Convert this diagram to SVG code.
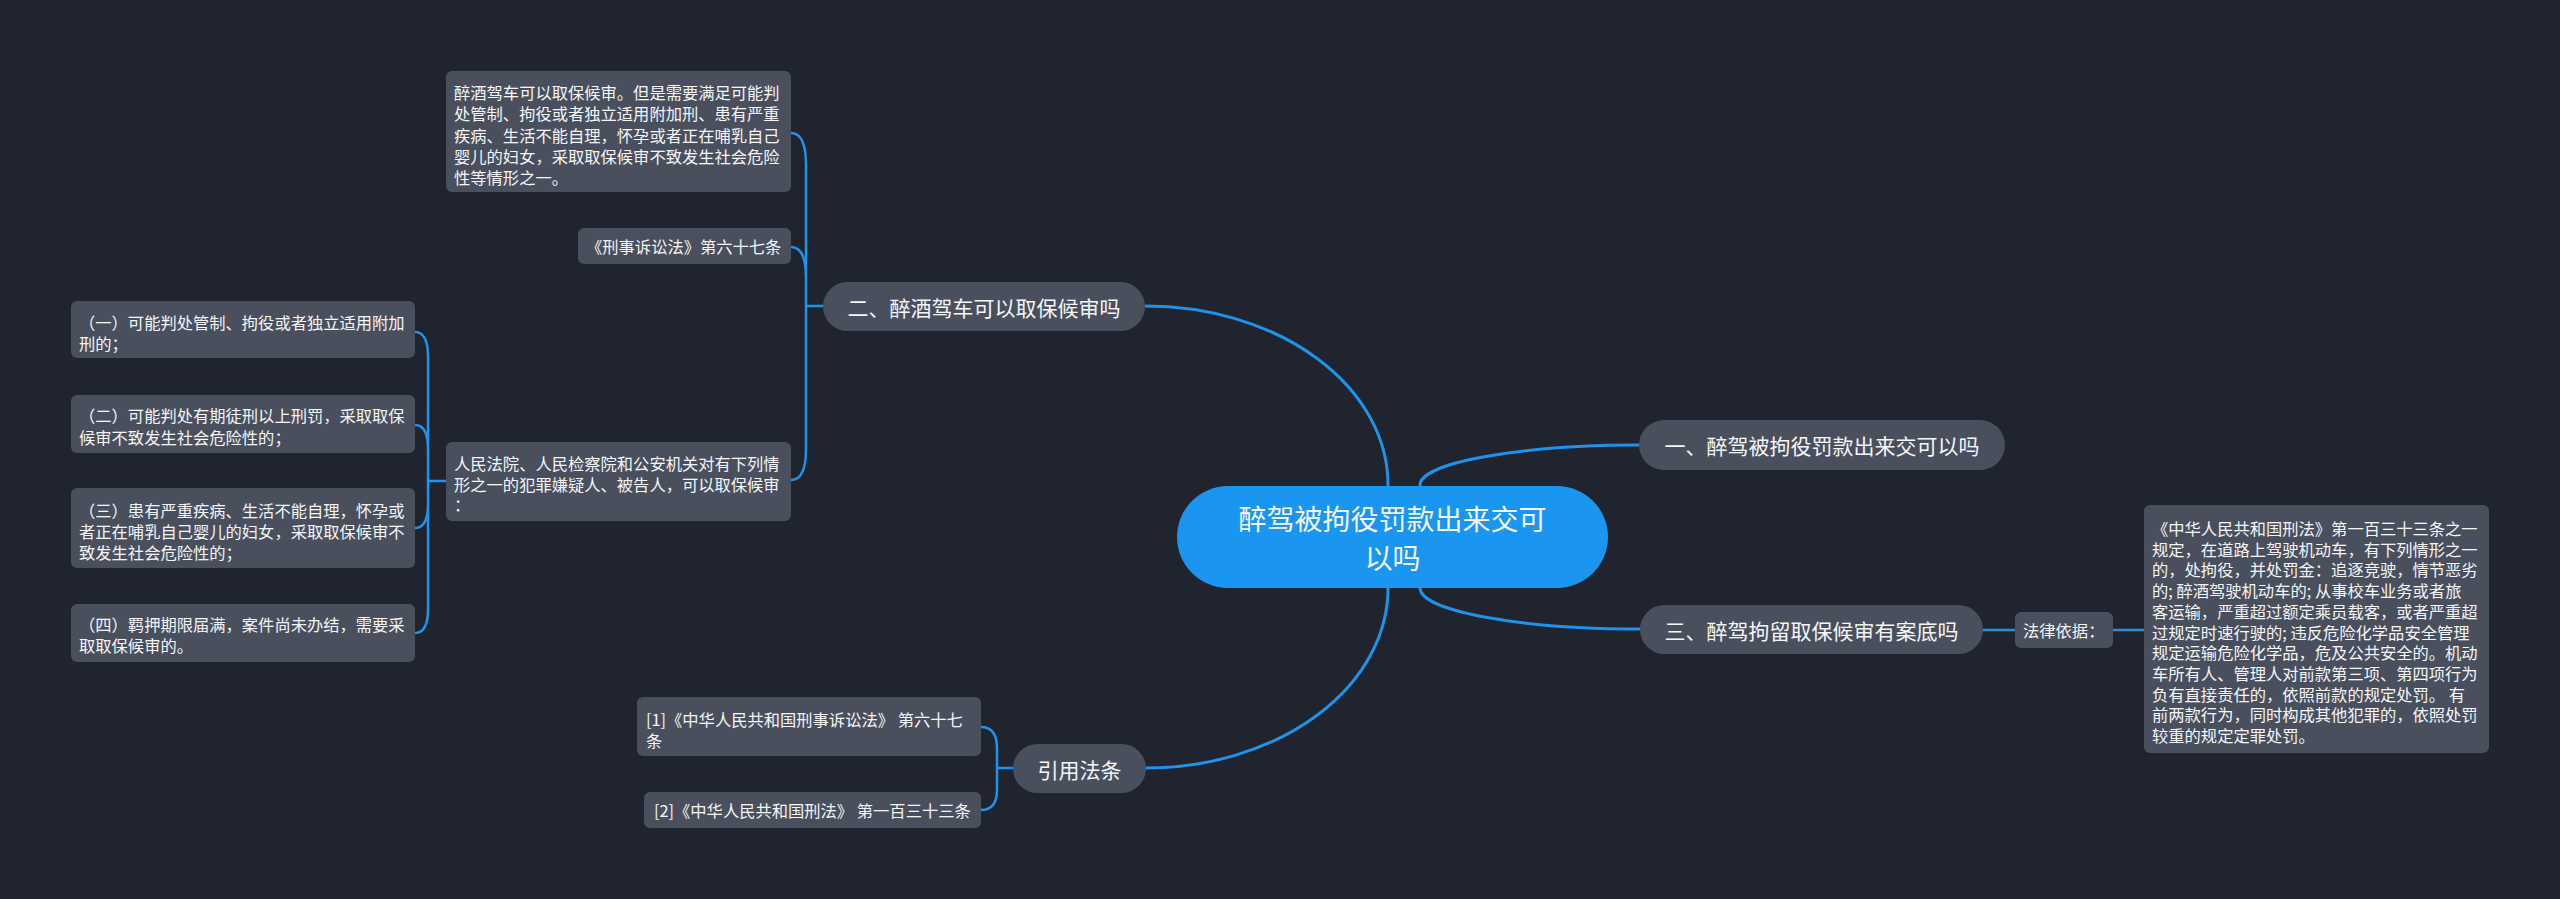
<svg xmlns="http://www.w3.org/2000/svg" width="2560" height="899" viewBox="0 0 2560 899">
<defs>
<style>
.bg{fill:#20242f}
.pill{fill:#4a4f5e}
.box{fill:#4a4f5e}
.root{fill:#1b96f0}
.c{fill:none;stroke:#1f93ea;stroke-width:3;stroke-linecap:round}
.c2{fill:none;stroke:#1f93ea;stroke-width:2.5;stroke-linecap:round}
text{font-family:"Noto Sans CJK SC","Noto Sans",sans-serif;fill:#f4f6f8;dominant-baseline:central}
.t1{font-size:28px;text-anchor:middle}
.t2{font-size:21px;text-anchor:middle}
.t3{font-size:16.3px}
</style>
</defs>
<rect class="bg" x="0" y="0" width="2560" height="899"/>

<g id="connectors">
<path class="c" d="M1146,306 A242,179 0 0 1 1388,485 L1388,495"/>
<path class="c" d="M1420,495 L1420,485 A220,40 0 0 1 1640,445"/>
<path class="c" d="M1420,580 L1420,588 A220,41 0 0 0 1640,629"/>
<path class="c" d="M1388,580 L1388,588 A242,180 0 0 1 1146,768"/>
<path class="c2" d="M1983,630 L2015,630"/>
<path class="c2" d="M2113,630 L2144,630"/>
<path class="c2" d="M823,306 L806,306 M806,306 L806,165 Q806,133 791,133 M806,306 L806,278 Q806,247 791,247 M806,306 L806,449 Q806,480 791,480"/>
<path class="c2" d="M446,481 L428,481 M428,481 L428,357 Q428,332 415,332 M428,481 L428,449 Q428,425 415,425 M428,481 L428,504 Q428,528 415,528 M428,481 L428,609 Q428,633 415,633"/>
<path class="c2" d="M1013,768 L997,768 M997,768 L997,748 Q997,727 981,727 M997,768 L997,790 Q997,810 981,810"/>
</g>

<g id="root">
<rect class="root" x="1177" y="486" width="431" height="102" rx="51"/>
<text class="t1" x="1392.5" y="518">醉驾被拘役罚款出来交可</text>
<text class="t1" x="1392.5" y="557">以吗</text>
</g>

<g id="n-yi">
<rect class="pill" x="1639" y="420" width="366" height="50" rx="25"/>
<text class="t2" x="1822" y="445">一、醉驾被拘役罚款出来交可以吗</text>
</g>

<g id="n-er">
<rect class="pill" x="823" y="282" width="322" height="49" rx="24.5"/>
<text class="t2" x="984" y="306.5">二、醉酒驾车可以取保候审吗</text>
</g>

<g id="n-san">
<rect class="pill" x="1640" y="605" width="343" height="49" rx="24.5"/>
<text class="t2" x="1811.5" y="629.5">三、醉驾拘留取保候审有案底吗</text>
</g>

<g id="n-yinyong">
<rect class="pill" x="1013" y="744" width="133" height="49" rx="24.5"/>
<text class="t2" x="1079.5" y="768.5">引用法条</text>
</g>

<g id="n-er-1">
<rect class="box" x="446" y="71" width="345" height="121" rx="6"/>
<text class="t3" x="454" y="92">醉酒驾车可以取保候审。但是需要满足可能判</text>
<text class="t3" x="454" y="113">处管制、拘役或者独立适用附加刑、患有严重</text>
<text class="t3" x="454" y="134.5">疾病、生活不能自理，怀孕或者正在哺乳自己</text>
<text class="t3" x="454" y="155.5">婴儿的妇女，采取取保候审不致发生社会危险</text>
<text class="t3" x="454" y="176.5">性等情形之一。</text>
</g>

<g id="n-er-2">
<rect class="box" x="578" y="228" width="213" height="36" rx="6"/>
<text class="t3" x="586" y="246">《刑事诉讼法》第六十七条</text>
</g>

<g id="n-er-3">
<rect class="box" x="446" y="442" width="345" height="79" rx="6"/>
<text class="t3" x="454" y="463">人民法院、人民检察院和公安机关对有下列情</text>
<text class="t3" x="454" y="483.5">形之一的犯罪嫌疑人、被告人，可以取保候审</text>
<text class="t3" x="454" y="504">：</text>
</g>

<g id="n-er-3-1">
<rect class="box" x="71" y="301" width="344" height="57" rx="6"/>
<text class="t3" x="79" y="322">（一）可能判处管制、拘役或者独立适用附加</text>
<text class="t3" x="79" y="343">刑的；</text>
</g>

<g id="n-er-3-2">
<rect class="box" x="71" y="395" width="344" height="58" rx="6"/>
<text class="t3" x="79" y="415">（二）可能判处有期徒刑以上刑罚，采取取保</text>
<text class="t3" x="79" y="437">候审不致发生社会危险性的；</text>
</g>

<g id="n-er-3-3">
<rect class="box" x="71" y="488" width="344" height="80" rx="6"/>
<text class="t3" x="79" y="510">（三）患有严重疾病、生活不能自理，怀孕或</text>
<text class="t3" x="79" y="531">者正在哺乳自己婴儿的妇女，采取取保候审不</text>
<text class="t3" x="79" y="552">致发生社会危险性的；</text>
</g>

<g id="n-er-3-4">
<rect class="box" x="71" y="604" width="344" height="58" rx="6"/>
<text class="t3" x="79" y="624">（四）羁押期限届满，案件尚未办结，需要采</text>
<text class="t3" x="79" y="645">取取保候审的。</text>
</g>

<g id="n-san-1">
<rect class="box" x="2015" y="612" width="98" height="36" rx="6"/>
<text class="t3" x="2023" y="630">法律依据：</text>
</g>

<g id="n-san-2">
<rect class="box" x="2144" y="505" width="345" height="248" rx="6"/>
<text class="t3" x="2152" y="528">《中华人民共和国刑法》第一百三十三条之一</text>
<text class="t3" x="2152" y="548.7">规定，在道路上驾驶机动车，有下列情形之一</text>
<text class="t3" x="2152" y="569.4">的，处拘役，并处罚金：追逐竞驶，情节恶劣</text>
<text class="t3" x="2152" y="590.1">的; 醉酒驾驶机动车的; 从事校车业务或者旅</text>
<text class="t3" x="2152" y="610.8">客运输，严重超过额定乘员载客，或者严重超</text>
<text class="t3" x="2152" y="631.5">过规定时速行驶的; 违反危险化学品安全管理</text>
<text class="t3" x="2152" y="652.2">规定运输危险化学品，危及公共安全的。机动</text>
<text class="t3" x="2152" y="672.9">车所有人、管理人对前款第三项、第四项行为</text>
<text class="t3" x="2152" y="693.6">负有直接责任的，依照前款的规定处罚。 有</text>
<text class="t3" x="2152" y="714.3">前两款行为，同时构成其他犯罪的，依照处罚</text>
<text class="t3" x="2152" y="735">较重的规定定罪处罚。</text>
</g>

<g id="n-yinyong-1">
<rect class="box" x="637" y="697" width="344" height="59" rx="6"/>
<text class="t3" x="646" y="718.5">[1]《中华人民共和国刑事诉讼法》 第六十七</text>
<text class="t3" x="646" y="739.5">条</text>
</g>

<g id="n-yinyong-2">
<rect class="box" x="644" y="792" width="337" height="36" rx="6"/>
<text class="t3" x="654" y="810">[2]《中华人民共和国刑法》 第一百三十三条</text>
</g>
</svg>
